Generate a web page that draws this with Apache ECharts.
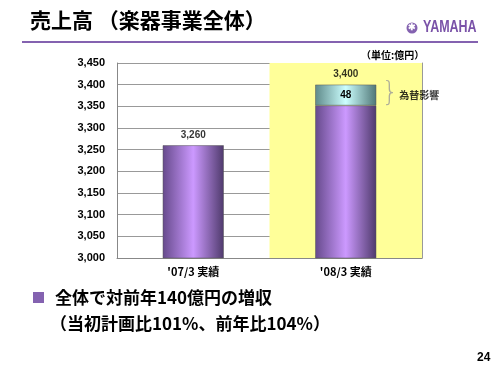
<!DOCTYPE html>
<html><head><meta charset="utf-8">
<script src="https://cdn.jsdelivr.net/npm/echarts@6/dist/echarts.min.js"></script>
<style>html,body{margin:0;padding:0;background:#fff}#c{width:500px;height:375px}</style>
</head><body><div id="c"></div>
<script>
const categories = ["'07/3 実績", "'08/3 実績"];
const baseValues = [3260, 3352];
const fxValues = [null, 48];
const totalValues = [3260, 3400];
const fxLabel = '為替影響';
const yMin = 3000, yMax = 3450, yStep = 50;

const chart = echarts.init(document.getElementById('c'), null, {renderer: 'canvas'});
const jp = '"Noto Sans CJK JP", Arial, sans-serif';
const purpleGrad = new echarts.graphic.LinearGradient(0, 0, 1, 0, [
  {offset: 0, color: '#664a8c'}, {offset: 0.5, color: '#cc99ff'}, {offset: 1, color: '#4f3a6c'}]);
const cyanGrad = new echarts.graphic.LinearGradient(0, 0, 1, 0, [
  {offset: 0, color: '#5f8a8a'}, {offset: 0.5, color: '#ccffff'}, {offset: 1, color: '#507777'}]);

chart.setOption({
  animation: false,
  grid: {left: 117, right: 78, top: 63, bottom: 117},
  xAxis: {
    type: 'category', data: categories,
    axisLine: {lineStyle: {color: '#888', width: 1}},
    axisTick: {show: false},
    axisLabel: {color: '#000', fontWeight: 'bold', fontSize: 11, fontFamily: jp, margin: 8},
    splitArea: {show: true, areaStyle: {color: ['rgba(0,0,0,0)', '#ffff99']}}
  },
  yAxis: [{
    type: 'value', min: yMin, max: yMax, interval: yStep,
    axisLine: {show: true, lineStyle: {color: '#888'}},
    axisTick: {show: false},
    axisLabel: {color: '#000', fontWeight: 'bold', fontSize: 11, fontFamily: 'Arial', margin: 12,
      formatter: v => v.toLocaleString('en-US')},
    splitLine: {lineStyle: {color: '#999', width: 1}}
  }, {
    type: 'value', min: yMin, max: yMax, interval: yStep, position: 'right',
    axisLine: {show: true, lineStyle: {color: '#999'}},
    axisTick: {show: false}, axisLabel: {show: false}, splitLine: {show: false}
  }],
  series: [{
    type: 'bar', stack: 's', data: baseValues, barWidth: '40%',
    itemStyle: {color: purpleGrad, borderColor: '#555', borderWidth: 0.5}
  }, {
    type: 'bar', stack: 's', data: fxValues,
    itemStyle: {color: cyanGrad, borderColor: '#555', borderWidth: 0.5},
    label: {show: true, position: 'inside', color: '#000', fontWeight: 'bold', fontSize: 10, fontFamily: 'Arial'}
  }, {
    type: 'scatter', data: totalValues, symbolSize: 0, silent: true,
    label: {show: true, position: 'top', distance: 5, color: '#000', fontWeight: 'bold', fontSize: 10, fontFamily: 'Arial',
      formatter: p => p.value.toLocaleString('en-US')}
  }, {
    type: 'scatter', data: [null, totalValues[1] - fxValues[1] / 2], symbolSize: 0, silent: true,
    label: {show: true, position: 'right', distance: 0, offset: [36, -2],
      fontSize: 26, color: '#999', fontFamily: 'DejaVu Sans', fontWeight: 'lighter',
      formatter: '}{t|' + fxLabel + '}',
      rich: {
        t: {fontSize: 10, color: '#000', fontWeight: 'bold', fontFamily: jp, padding: [4, 0, 0, 1]}
      }}
  }],
  graphic: [
    {type: 'text', left: 30, top: 10, style: {text: '売上高 （楽器事業全体）', font: 'bold 21px ' + jp, fill: '#000'}},
    {type: 'rect', shape: {x: 22, y: 41, width: 456, height: 2}, style: {fill: '#8462b0'}},
    {type: 'circle', shape: {cx: 412, cy: 28, r: 5.5}, style: {fill: '#8462b0'}},
    {type: 'text', x: 412, y: 28, style: {text: '✱', font: 'bold 9px Arial', fill: '#fff', align: 'center', verticalAlign: 'middle'}},
    {type: 'text', x: 423, y: 20, scaleX: 0.78, style: {text: 'YAMAHA', font: 'bold 16px Arial', fill: '#7a52a8'}},
    {type: 'text', x: 361, y: 50, style: {text: '（単位:億円）', font: 'bold 10px ' + jp, fill: '#000'}},
    {type: 'rect', shape: {x: 33, y: 292, width: 11, height: 11}, style: {fill: '#8462b0'}},
    {type: 'text', x: 55, y: 289, style: {text: '全体で対前年140億円の増収', font: 'bold 17px ' + jp, fill: '#000'}},
    {type: 'text', x: 50, y: 315, style: {text: '（当初計画比101%、前年比104%）', font: 'bold 17px ' + jp, fill: '#000'}},
    {type: 'text', x: 477, y: 352, style: {text: '24', font: 'bold 12px Arial', fill: '#000'}}
  ]
});
</script></body></html>
